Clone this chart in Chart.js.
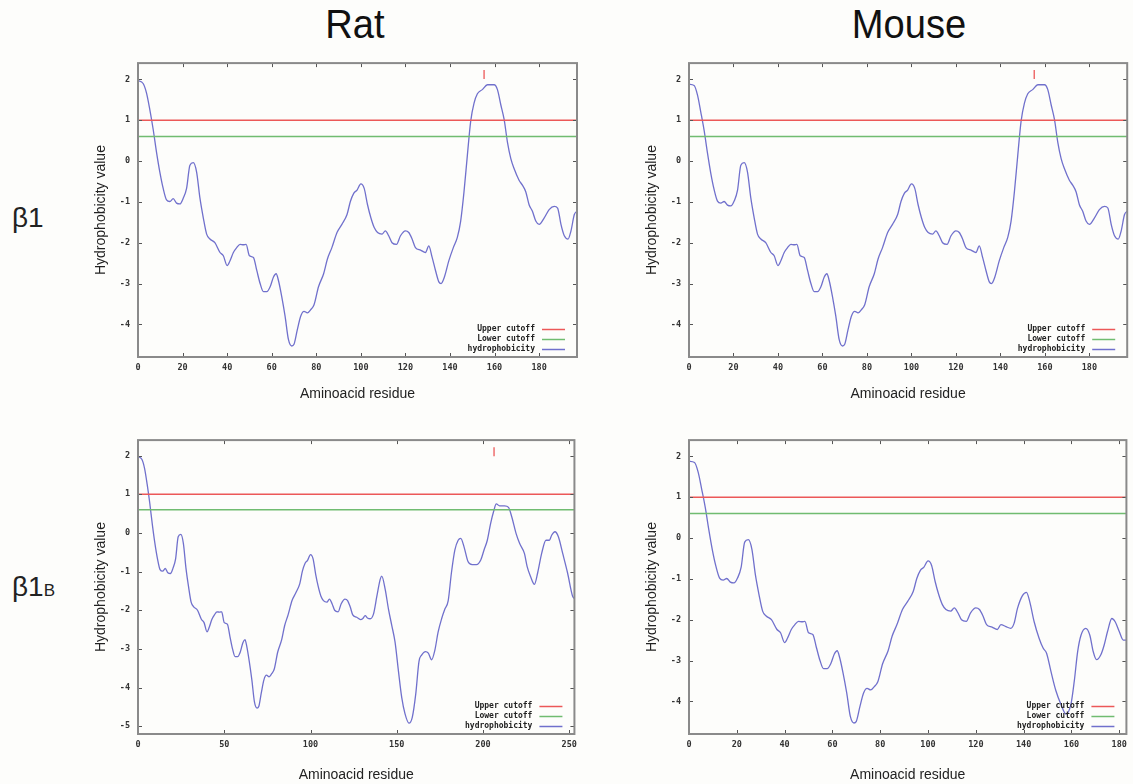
<!DOCTYPE html>
<html>
<head>
<meta charset="utf-8">
<script src="https://cdn.jsdelivr.net/npm/chart.js@4.4.1/dist/chart.umd.min.js"></script>
<style>
  body { margin: 0; width: 1133px; height: 784px; background: #fdfdfb; overflow: hidden; position: relative;
         font-family: "Liberation Sans", Arial, sans-serif; }
  canvas { position: absolute; }
  .col { position: absolute; top: 4px; font-size: 41px; line-height: 41px; color: #111; white-space: nowrap;
         transform: translateX(-50%) scaleX(0.93); }
  .row { position: absolute; left: 12px; font-size: 28px; line-height: 28px; color: #222; }
  .row small { font-size: 17px; }
</style>
</head>
<body>
<div class="col" style="left:355px">Rat</div>
<div class="col" style="left:909px">Mouse</div>
<div class="row" style="top:204px">β1</div>
<div class="row" style="top:573px">β1<small>B</small></div>

<canvas id="chartRatB1" width="495" height="353" style="left:88px;top:50px"></canvas>
<canvas id="chartMouseB1" width="494" height="353" style="left:639px;top:50px"></canvas>
<canvas id="chartRatB1B" width="495" height="357" style="left:88px;top:427px"></canvas>
<canvas id="chartMouseB1B" width="494" height="357" style="left:639px;top:427px"></canvas>

<script>
// Perfis de hidrofobicidade (resíduo, valor)
const residuesB1 = [0, 2.3, 3.8, 5.3, 6.8, 8.3, 9.8, 11.3, 12.8, 14.3,
  15.8, 17.3, 18.8, 20.3, 21.8, 23.3, 24.8, 26.3, 27.8, 29.3,
  30.8, 32.3, 34.5, 36.8, 38.3, 40, 41.3, 42.8, 44.3, 45.8,
  47.3, 48.5, 50, 51.8, 53.3, 54.8, 56.3, 57.8, 59.3, 60.8,
  62, 63, 64.5, 66, 67.5, 69, 70, 71.5, 73, 74.5,
  76, 77.5, 79, 81, 83.3, 85, 87, 89.3, 91.5, 93.8,
  95.3, 96.8, 98.3, 100, 101.5, 103, 104.5, 106, 107.5, 109.5,
  111, 112.5, 114, 116, 117.8, 120, 121.5, 123, 124.5, 126.8,
  129, 130.5, 132, 133.5, 135, 136, 137.5, 139.5, 141.5, 143.3,
  144.8, 146.3, 147.8, 149.3, 150.8, 152.3, 154.5, 156.8, 159.8, 161.3,
  162.8, 164.3, 165.8, 167.3, 168.8, 171, 172.5, 174, 175.5, 177,
  178.5, 180, 182.3, 184.5, 186.8, 188.3, 189.8, 191.3, 193, 194.3,
  195.8, 197];

const ratB1 = [1.97, 1.9, 1.67, 1.26, 0.78, 0.22, -0.27, -0.67, -0.95, -0.99,
  -0.92, -1.03, -1.05, -0.91, -0.67, -0.1, -0.04, -0.27, -0.91, -1.39,
  -1.79, -1.91, -2.0, -2.24, -2.32, -2.56, -2.44, -2.24, -2.12, -2.04,
  -2.05, -2.04, -2.32, -2.36, -2.68, -3.0, -3.2, -3.2, -3.08, -2.84,
  -2.76, -2.92, -3.32, -3.8, -4.37, -4.53, -4.49, -4.13, -3.8, -3.68,
  -3.72, -3.64, -3.52, -3.08, -2.76, -2.4, -2.12, -1.75, -1.55, -1.31,
  -0.99, -0.79, -0.71, -0.56, -0.67, -1.07, -1.39, -1.63, -1.75, -1.79,
  -1.71, -1.83, -2.0, -2.04, -1.83, -1.71, -1.75, -1.91, -2.12, -2.18,
  -2.24, -2.08, -2.36, -2.68, -2.96, -3.0, -2.84, -2.44, -2.12, -1.87,
  -1.47, -0.75, 0.14, 0.98, 1.42, 1.65, 1.75, 1.87, 1.87, 1.75,
  1.38, 1.02, 0.46, 0.06, -0.19, -0.47, -0.59, -0.75, -1.07, -1.23,
  -1.47, -1.55, -1.39, -1.19, -1.11, -1.15, -1.55, -1.83, -1.91, -1.71,
  -1.31, -1.23];

const mouseB1 = [1.88, 1.85, 1.62, 1.2, 0.75, 0.2, -0.3, -0.7, -0.98, -1.03,
  -0.99, -1.08, -1.1, -0.98, -0.72, -0.1, -0.04, -0.27, -0.91, -1.39,
  -1.79, -1.91, -2.0, -2.24, -2.32, -2.56, -2.44, -2.24, -2.12, -2.04,
  -2.05, -2.04, -2.32, -2.36, -2.68, -3.0, -3.2, -3.2, -3.08, -2.84,
  -2.76, -2.92, -3.32, -3.8, -4.37, -4.53, -4.49, -4.13, -3.8, -3.68,
  -3.72, -3.64, -3.52, -3.08, -2.76, -2.4, -2.12, -1.75, -1.55, -1.31,
  -0.99, -0.79, -0.71, -0.56, -0.67, -1.07, -1.39, -1.63, -1.75, -1.79,
  -1.71, -1.83, -2.0, -2.04, -1.83, -1.71, -1.75, -1.91, -2.12, -2.18,
  -2.24, -2.08, -2.36, -2.68, -2.96, -3.0, -2.84, -2.44, -2.12, -1.87,
  -1.47, -0.75, 0.14, 0.98, 1.42, 1.65, 1.75, 1.87, 1.87, 1.75,
  1.38, 1.02, 0.46, 0.06, -0.19, -0.47, -0.59, -0.75, -1.07, -1.23,
  -1.47, -1.55, -1.39, -1.19, -1.11, -1.15, -1.55, -1.83, -1.91, -1.71,
  -1.31, -1.23];

const residuesRatB1B = [0, 2.3, 3.8, 5.3, 6.8, 8.3, 9.8, 11.3, 12.8, 14.3,
  15.8, 17.3, 18.8, 20.3, 21.8, 23.3, 24.8, 26.3, 27.8, 29.3,
  30.8, 32.3, 34.5, 36.8, 38.3, 40, 41.3, 42.8, 44.3, 45.8,
  47.3, 48.5, 50, 51.8, 53.3, 54.8, 56.3, 57.8, 59.3, 60.8,
  62, 63, 64.5, 66, 67.5, 69, 70, 71.5, 73, 74.5,
  76, 77.5, 79, 81, 83.3, 85, 87, 89.3, 91.5, 93.8,
  95.3, 96.8, 98.3, 100, 101.5, 103, 104.5, 106, 107.5, 109.5,
  111, 112.5, 114, 116, 117.8, 120, 121.5, 123, 124.5, 126.8,
  129, 130.2, 131.7, 133, 134.6, 136.5, 138.5, 140.4, 141.3, 143.3,
  145.2, 147.1, 149, 151, 152.9, 154.8, 157.1, 159, 161, 162.9,
  164.4, 166.7, 168.3, 170.2, 172.1, 174, 176, 177.9, 179.8, 181.7,
  183.7, 185.6, 187.1, 189, 191.3, 193.7, 196.2, 198.7, 200.6, 202.5,
  204.4, 206.3, 207.7, 209.6, 212.5, 214.8, 216.7, 219.2, 221.2, 224,
  225.6, 227.5, 229.8, 231.7, 234, 236.5, 238.5, 239.8, 241.7, 243.7,
  246.2, 249, 251.9, 253];

const ratB1B = [1.97, 1.9, 1.67, 1.26, 0.78, 0.22, -0.27, -0.67, -0.95, -0.99,
  -0.92, -1.03, -1.05, -0.91, -0.67, -0.1, -0.04, -0.27, -0.91, -1.39,
  -1.79, -1.91, -2.0, -2.24, -2.32, -2.56, -2.44, -2.24, -2.12, -2.04,
  -2.05, -2.04, -2.32, -2.36, -2.68, -3.0, -3.2, -3.2, -3.08, -2.84,
  -2.76, -2.92, -3.32, -3.8, -4.37, -4.53, -4.49, -4.13, -3.8, -3.68,
  -3.72, -3.64, -3.52, -3.08, -2.76, -2.4, -2.12, -1.75, -1.55, -1.31,
  -0.99, -0.79, -0.71, -0.56, -0.67, -1.07, -1.39, -1.63, -1.75, -1.79,
  -1.71, -1.83, -2.0, -2.04, -1.83, -1.71, -1.75, -1.91, -2.12, -2.18,
  -2.24, -2.22, -2.14, -2.2, -2.22, -2.1, -1.63, -1.2, -1.12, -1.46,
  -1.97, -2.39, -2.82, -3.58, -4.26, -4.68, -4.92, -4.77, -4.17, -3.32,
  -3.16, -3.07, -3.11, -3.28, -3.03, -2.56, -2.22, -1.97, -1.76, -1.03,
  -0.44, -0.19, -0.14, -0.36, -0.74, -0.82, -0.82, -0.7, -0.44, -0.19,
  0.24, 0.58, 0.75, 0.7, 0.7, 0.66, 0.41, -0.02, -0.27, -0.53,
  -0.87, -1.12, -1.33, -1.03, -0.53, -0.19, -0.19, -0.06, 0.03, -0.1,
  -0.53, -1.03, -1.63, -1.7];

const residuesMouseB1B = [0, 2.3, 3.8, 5.3, 6.8, 8.3, 9.8, 11.3, 12.8, 14.3,
  15.8, 17.3, 18.8, 20.3, 21.8, 23.3, 24.8, 26.3, 27.8, 29.3,
  30.8, 32.3, 34.5, 36.8, 38.3, 40, 41.3, 42.8, 44.3, 45.8,
  47.3, 48.5, 50, 51.8, 53.3, 54.8, 56.3, 57.8, 59.3, 60.8,
  62, 63, 64.5, 66, 67.5, 69, 70, 71.5, 73, 74.5,
  76, 77.5, 79, 81, 83.3, 85, 87, 89.3, 91.5, 93.8,
  95.3, 96.8, 98.3, 100, 101.5, 103, 104.5, 106, 107.5, 109.5,
  111, 112.5, 114, 116, 117.8, 120, 121.5, 123, 124.5, 126.8,
  129, 130.5, 132.6, 134.6, 136, 137.4, 139.5, 141.2, 142.6, 144.4,
  146.5, 148.2, 149.6, 151.4, 153.5, 155.6, 157.7, 159.8, 161.2, 162.6,
  164, 166, 167.7, 169.1, 170.5, 172.3, 173.7, 175.1, 176.9, 178.3,
  180, 181.7, 183];

const mouseB1B = [1.88, 1.85, 1.62, 1.2, 0.75, 0.2, -0.3, -0.7, -0.98, -1.03,
  -0.99, -1.08, -1.1, -0.98, -0.72, -0.1, -0.04, -0.27, -0.91, -1.39,
  -1.79, -1.91, -2.0, -2.24, -2.32, -2.56, -2.44, -2.24, -2.12, -2.04,
  -2.05, -2.04, -2.32, -2.36, -2.68, -3.0, -3.2, -3.2, -3.08, -2.84,
  -2.76, -2.92, -3.32, -3.8, -4.37, -4.53, -4.49, -4.13, -3.8, -3.68,
  -3.72, -3.64, -3.52, -3.08, -2.76, -2.4, -2.12, -1.75, -1.55, -1.31,
  -0.99, -0.79, -0.71, -0.56, -0.67, -1.07, -1.39, -1.63, -1.75, -1.79,
  -1.71, -1.83, -2.0, -2.04, -1.83, -1.71, -1.75, -1.91, -2.12, -2.18,
  -2.24, -2.12, -2.17, -2.21, -2.09, -1.73, -1.41, -1.33, -1.57, -2.05,
  -2.46, -2.7, -2.82, -3.26, -3.74, -4.07, -4.31, -4.07, -3.5, -2.78,
  -2.38, -2.21, -2.38, -2.78, -2.98, -2.86, -2.62, -2.29, -1.97, -2.05,
  -2.29, -2.5, -2.5];

// Marcas vermelhas sobre o pico (resíduo, valor)
const ratB1Mark = [155.3, 2.12];
const mouseB1Mark = [155.2, 2.12];
const ratB1BMark = [206.4, 2.1];

const upperCutoff = 1.0;
const lowerCutoff = 0.6;

const xTicksB1 = [0, 20, 40, 60, 80, 100, 120, 140, 160, 180];
const xTicksRatB1B = [0, 50, 100, 150, 200, 250];
const yTicksB1 = [-4, -3, -2, -1, 0, 1, 2];
const yTicksRatB1B = [-5, -4, -3, -2, -1, 0, 1, 2];

const RED = "rgb(236, 88, 88)";
const GREEN = "rgb(112, 188, 112)";
const BLUE = "rgb(112, 112, 204)";

// Moldura estilo gnuplot: borda, marcas internas e legenda no canto
const gnuplotFrame = {
  id: "gnuplotFrame",
  afterDatasetsDraw(chart) {
    const { ctx, chartArea: a, scales: { x, y } } = chart;
    ctx.save();
    ctx.strokeStyle = "#555";
    ctx.lineWidth = 1;
    ctx.beginPath();
    x.ticks.forEach((t) => {
      const px = Math.round(x.getPixelForValue(t.value)) + 0.5;
      ctx.moveTo(px, a.bottom); ctx.lineTo(px, a.bottom - 4);
      ctx.moveTo(px, a.top); ctx.lineTo(px, a.top + 4);
    });
    y.ticks.forEach((t) => {
      const py = Math.round(y.getPixelForValue(t.value)) + 0.5;
      ctx.moveTo(a.left, py); ctx.lineTo(a.left + 4, py);
      ctx.moveTo(a.right, py); ctx.lineTo(a.right - 4, py);
    });
    ctx.stroke();

    ctx.strokeStyle = "#8a8a8a";
    ctx.lineWidth = 2;
    ctx.strokeRect(a.left, a.top, a.width, a.height);

    ctx.font = "bold 8px 'DejaVu Sans Mono'";
    ctx.textAlign = "right";
    ctx.textBaseline = "middle";
    chart.data.datasets.slice(0, 3).forEach((ds, i) => {
      const ly = a.bottom - 28 + i * 10;
      ctx.fillStyle = "#222";
      ctx.fillText(ds.label, a.right - 42, ly);
      ctx.strokeStyle = ds.borderColor;
      ctx.lineWidth = 1.5;
      ctx.beginPath();
      ctx.moveTo(a.right - 35, ly + 0.5);
      ctx.lineTo(a.right - 12, ly + 0.5);
      ctx.stroke();
    });
    ctx.restore();
  },
};

function drawPanel(canvasId, residues, values, mark, xMax, yMin, xTicks, yTicks) {
  const canvas = document.getElementById(canvasId);
  const xHeight = canvas.height - 9 - 298;
  const padRight = canvas.width - 50 - 439;
  const tickFont = { family: "'DejaVu Sans Mono'", size: 8.5, weight: "bold" };
  const titleFont = { family: "'Liberation Sans', Arial", size: 14 };

  const datasets = [
    {
      label: "Upper cutoff",
      data: [{ x: 0, y: upperCutoff }, { x: xMax, y: upperCutoff }],
      borderColor: RED, borderWidth: 1.5, pointRadius: 0,
    },
    {
      label: "Lower cutoff",
      data: [{ x: 0, y: lowerCutoff }, { x: xMax, y: lowerCutoff }],
      borderColor: GREEN, borderWidth: 1.5, pointRadius: 0,
    },
    {
      label: "hydrophobicity",
      data: residues.map((r, i) => ({ x: r, y: values[i] })),
      borderColor: BLUE, borderWidth: 1.3, pointRadius: 0,
      cubicInterpolationMode: "monotone",
    },
  ];
  if (mark) {
    datasets.push({
      label: "mark",
      data: [{ x: mark[0], y: mark[1] }],
      showLine: false, pointStyle: "line", rotation: 90, pointRadius: 4.5,
      borderColor: RED, borderWidth: 1.3,
    });
  }

  new Chart(canvas, {
    type: "line",
    data: { datasets },
    options: {
      responsive: false,
      animation: false,
      layout: { padding: { left: 0, top: 9, right: padRight, bottom: 0 } },
      plugins: { legend: { display: false }, tooltip: { enabled: false } },
      scales: {
        x: {
          type: "linear", min: 0, max: xMax,
          afterBuildTicks: (s) => { s.ticks = xTicks.map((v) => ({ value: v })); },
          afterFit: (s) => { s.height = xHeight; },
          grid: { display: false, drawTicks: false },
          border: { display: false },
          ticks: { font: tickFont, color: "#333", padding: 6, maxRotation: 0, autoSkip: false },
          title: { display: true, text: "Aminoacid residue", font: titleFont, color: "#222",
                   padding: { top: 0, bottom: 0 } },
        },
        y: {
          min: yMin, max: 2.4,
          afterBuildTicks: (s) => { s.ticks = yTicks.map((v) => ({ value: v })); },
          afterFit: (s) => { s.width = 50; },
          grid: { display: false, drawTicks: false },
          border: { display: false },
          ticks: { font: tickFont, color: "#333", padding: 8, autoSkip: false },
          title: { display: true, text: "Hydrophobicity value", font: titleFont, color: "#222",
                   padding: { top: 5, bottom: 0 } },
        },
      },
    },
    plugins: [gnuplotFrame],
  });
}

drawPanel("chartRatB1", residuesB1, ratB1, ratB1Mark, 197, -4.8, xTicksB1, yTicksB1);
drawPanel("chartMouseB1", residuesB1, mouseB1, mouseB1Mark, 197, -4.8, xTicksB1, yTicksB1);
drawPanel("chartRatB1B", residuesRatB1B, ratB1B, ratB1BMark, 253, -5.2, xTicksRatB1B, yTicksRatB1B);
drawPanel("chartMouseB1B", residuesMouseB1B, mouseB1B, null, 183, -4.8, xTicksB1, yTicksB1);
</script>
</body>
</html>
